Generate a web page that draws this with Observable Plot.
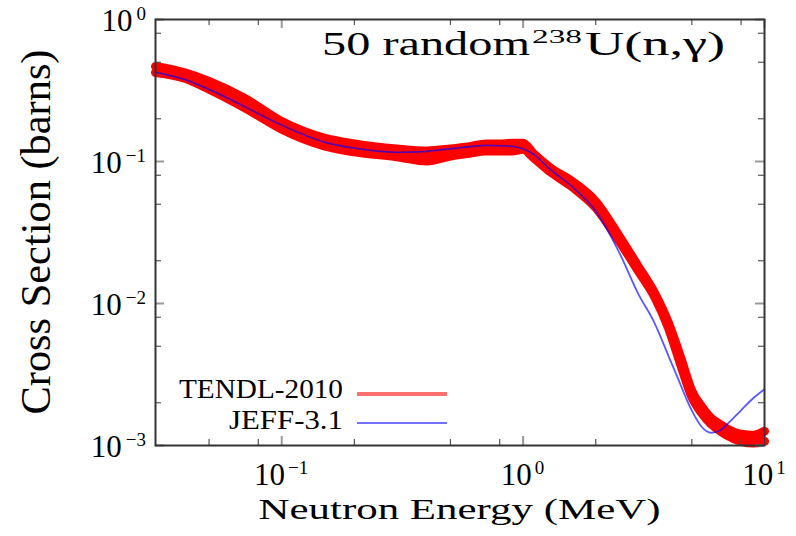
<!DOCTYPE html>
<html>
<head>
<meta charset="utf-8">
<script src="https://cdn.jsdelivr.net/npm/d3@7"></script>
<script src="https://cdn.jsdelivr.net/npm/@observablehq/plot@0.6"></script>
<style>
  html, body { margin: 0; padding: 0; background: #fff; }
</style>
</head>
<body>
<div id="chart"></div>
<script>
// ---- data ----
const energy = [0.03, 0.04, 0.05, 0.07, 0.1, 0.15, 0.2, 0.3, 0.4, 0.5, 0.6, 0.7, 0.8, 0.9, 1.0, 1.1, 1.3, 1.6, 2, 2.5, 3, 3.5, 4, 4.5, 5, 5.5, 6, 6.5, 7, 8, 9, 10];
// TENDL-2010: upper and lower edge of the band of 50 random curves (barns)
const tendlHigh = [0.467, 0.419, 0.366, 0.279, 0.191, 0.146, 0.133, 0.1225, 0.1186, 0.1225, 0.1272, 0.1329, 0.1329, 0.1344, 0.1344, 0.1144, 0.0900, 0.0722, 0.0522, 0.0298, 0.0182, 0.0119, 0.00731, 0.00414, 0.00242, 0.00187, 0.00156, 0.00142, 0.00131, 0.00120, 0.00118, 0.00126];
const tendlLow  = [0.423, 0.384, 0.323, 0.240, 0.169, 0.129, 0.117, 0.108, 0.1008, 0.1093, 0.1143, 0.1186, 0.1186, 0.1186, 0.1219, 0.1072, 0.0843, 0.0661, 0.0473, 0.0275, 0.0170, 0.0112, 0.00674, 0.00369, 0.00220, 0.00169, 0.00142, 0.00128, 0.00118, 0.00107, 0.00104, 0.00107];
// JEFF-3.1 evaluation (barns)
const jeff = [0.425, 0.376, 0.322, 0.244, 0.180, 0.137, 0.124, 0.116, 0.118, 0.123, 0.127, 0.130, 0.129, 0.128, 0.1225, 0.113, 0.0874, 0.0662, 0.0446, 0.0229, 0.0117, 0.00731, 0.00428, 0.00265, 0.00176, 0.00135, 0.00123, 0.00127, 0.00141, 0.00177, 0.00216, 0.00249];

const seriesNames = ["TENDL-2010", "JEFF-3.1"];
const titleMain = "50 random";
const titleIsotope = "238";
const titleReaction = "U(n,\u03B3)";
const xTitle = "Neutron Energy (MeV)";
const yTitle = "Cross Section (barns)";

const xMajor = [0.1, 1, 10];
const xMinor = [0.05, 0.08, 0.2, 0.5, 0.8, 2, 5, 8];
const yMajor = [0.001, 0.01, 0.1, 1];
const yMinor = [0.002, 0.005, 0.008, 0.02, 0.05, 0.08, 0.2, 0.5, 0.8];
const tickBase = "10";
const xTickExp = ["\u22121", "0", "1"];
const yTickExp = ["\u22123", "\u22122", "\u22121", "0"];

// ---- build table ----
const rows = energy.map((e, i) => ({e, hi: tendlHigh[i], lo: tendlLow[i], jeff: jeff[i]}));

const FONT = "'Liberation Serif', 'DejaVu Serif', serif";
const W = 796, H = 536;
const M = {left: 155, right: 32, top: 19, bottom: 91};
const frameW = W - M.left - M.right, frameH = H - M.top - M.bottom;
const TICK = 6, MAJ = 9;

function textLayer(index, scales, values, dims) {
  const {width, height, marginLeft, marginRight, marginTop, marginBottom} = dims;
  const left = marginLeft, right = width - marginRight, top = marginTop, bottom = height - marginBottom;
  const g = d3.create("svg:g").attr("font-family", FONT).attr("fill", "#000").attr("text-anchor", "start");

  // x tick labels
  xMajor.forEach((v, i) => {
    const t = g.append("text").attr("x", scales.x(v)).attr("y", bottom + 40)
      .attr("text-anchor", "middle").attr("font-size", 31);
    t.append("tspan").text(tickBase);
    t.append("tspan").attr("dx", 3).attr("dy", -11).attr("font-size", 19).text(xTickExp[i]);
  });
  // y tick labels
  yMajor.forEach((v, i) => {
    const t = g.append("text").attr("x", left - 9).attr("y", scales.y(v) + 12)
      .attr("text-anchor", "end").attr("font-size", 31);
    t.append("tspan").text(tickBase);
    t.append("tspan").attr("dx", 4).attr("dy", -11).attr("font-size", 19).text(yTickExp[i]);
  });

  // axis titles
  g.append("text").attr("x", (left + right) / 2).attr("y", bottom + 74)
    .attr("text-anchor", "middle").attr("font-size", 29)
    .attr("textLength", 402).attr("lengthAdjust", "spacingAndGlyphs").text(xTitle);
  g.append("text").attr("transform", `translate(50,${(top + bottom) / 2}) rotate(-90)`)
    .attr("text-anchor", "middle").attr("font-size", 42)
    .attr("textLength", 365).attr("lengthAdjust", "spacingAndGlyphs").text(yTitle);

  // title inside the frame (top right)
  g.append("text").attr("x", right - 442).attr("y", top + 36).attr("font-size", 34.5)
    .attr("textLength", 208).attr("lengthAdjust", "spacingAndGlyphs").text(titleMain);
  g.append("text").attr("x", right - 232).attr("y", top + 24).attr("font-size", 18)
    .attr("textLength", 50).attr("lengthAdjust", "spacingAndGlyphs").text(titleIsotope);
  g.append("text").attr("x", right - 179).attr("y", top + 36).attr("font-size", 34.5)
    .attr("textLength", 140).attr("lengthAdjust", "spacingAndGlyphs").text(titleReaction);

  // legend (bottom left, inside the frame)
  const lx = left + 188, sx1 = left + 202, sx2 = left + 292;
  const ly = [bottom - 47, bottom - 16];
  const lens = [164, 114];
  const sw = [4, 2];
  const col = ["#ff7070", "#7272ff"];
  const ry = [bottom - 51, bottom - 22];
  seriesNames.forEach((name, i) => {
    g.append("text").attr("x", lx).attr("y", ly[i]).attr("text-anchor", "end")
      .attr("font-size", 26.5).attr("textLength", lens[i]).attr("lengthAdjust", "spacingAndGlyphs").text(name);
    g.append("line").attr("x1", sx1).attr("x2", sx2).attr("y1", ry[i]).attr("y2", ry[i])
      .attr("stroke", col[i]).attr("stroke-width", sw[i]);
  });
  return g.node();
}

const curve = "monotone-x";
const chart = Plot.plot({
  width: W, height: H,
  marginLeft: M.left, marginRight: M.right, marginTop: M.top, marginBottom: M.bottom,
  style: {background: "#fff", fontFamily: FONT},
  x: {type: "log", domain: [0.03, 10], axis: null},
  y: {type: "log", domain: [0.001, 1], axis: null},
  marks: [
    // TENDL-2010 band
    Plot.areaY(rows, {x: "e", y1: "lo", y2: "hi", fill: "#ff0000", curve}),
    Plot.line(rows, {x: "e", y: "hi", stroke: "#ff0000", strokeWidth: 9, curve, strokeLinejoin: "round", strokeLinecap: "round"}),
    Plot.line(rows, {x: "e", y: "lo", stroke: "#ff0000", strokeWidth: 9, curve, strokeLinejoin: "round", strokeLinecap: "round"}),
    // JEFF-3.1
    Plot.line(rows, {x: "e", y: "jeff", stroke: "#0000ff", strokeOpacity: 0.65, strokeWidth: 1.8, curve}),
    // inward ticks: bottom / top
    Plot.ruleX(xMinor, {x: d => d, insetTop: frameH - TICK, stroke: "#555", strokeWidth: 1.2}),
    Plot.ruleX(xMinor, {x: d => d, insetBottom: frameH - TICK, stroke: "#555", strokeWidth: 1.2}),
    Plot.ruleX(xMajor, {x: d => d, insetTop: frameH - MAJ, stroke: "#999", strokeWidth: 2}),
    Plot.ruleX(xMajor, {x: d => d, insetBottom: frameH - MAJ, stroke: "#999", strokeWidth: 2}),
    // inward ticks: left / right
    Plot.ruleY(yMinor, {y: d => d, insetRight: frameW - TICK, stroke: "#555", strokeWidth: 1.2}),
    Plot.ruleY(yMinor, {y: d => d, insetLeft: frameW - TICK, stroke: "#555", strokeWidth: 1.2}),
    Plot.ruleY(yMajor, {y: d => d, insetRight: frameW - MAJ, stroke: "#999", strokeWidth: 2}),
    Plot.ruleY(yMajor, {y: d => d, insetLeft: frameW - MAJ, stroke: "#999", strokeWidth: 2}),
    Plot.frame({stroke: "#333", strokeWidth: 2}),
    textLayer
  ]
});
document.getElementById("chart").appendChild(chart);
</script>
</body>
</html>
